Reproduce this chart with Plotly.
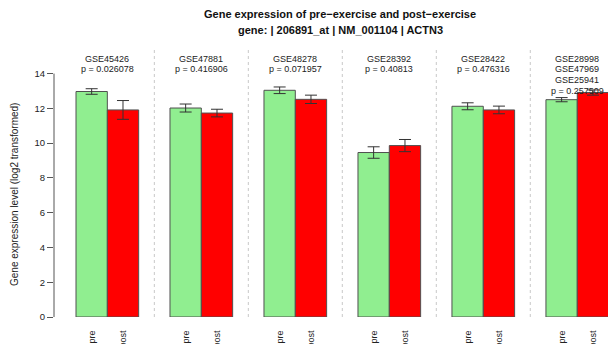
import plotly.graph_objects as go

# ---- data ----
datasets = [["GSE45426"], ["GSE47881"], ["GSE48278"], ["GSE28392"], ["GSE28422"],
            ["GSE28998", "GSE47969", "GSE25941"]]
p_values = ["0.026078", "0.416906", "0.071957", "0.40813", "0.476316", "0.257509"]
pre_mean = [12.97, 12.02, 13.04, 9.46, 12.12, 12.50]
pre_sem = [0.16, 0.23, 0.19, 0.33, 0.20, 0.12]
post_mean = [11.91, 11.73, 12.52, 9.86, 11.91, 12.91]
post_sem = [0.54, 0.22, 0.24, 0.35, 0.22, 0.15]
bar_labels = ["pre", "post"]
y_ticks = [0, 2, 4, 6, 8, 10, 12, 14]

# ---- layout helpers ----
W, H = 608, 344
L, R, T, B = 54, 0, 44, 27
plot_h = H - T - B
px_per_unit = 17.386
y_max = plot_h / px_per_unit
FONT = "Liberation Sans, Arial, sans-serif"


def py(px):
    """pixel row -> paper y"""
    return (H - B - px) / plot_h


def px_x(px):
    return (px - L) / (W - L - R)


n = len(datasets)
pre_x = [1.5 + 3 * i for i in range(n)]
post_x = [2.5 + 3 * i for i in range(n)]
centers = [2 + 3 * i for i in range(n)]

fig = go.Figure()
fig.add_bar(x=pre_x, y=pre_mean, width=1, marker=dict(color="#90EE90", line=dict(color="#505050", width=1)),
            error_y=dict(type="data", array=pre_sem, color="#333333", thickness=1, width=6), name="pre")
fig.add_bar(x=post_x, y=post_mean, width=1, marker=dict(color="#FF0000", line=dict(color="#505050", width=1)),
            error_y=dict(type="data", array=post_sem, color="#333333", thickness=1, width=6), name="post")

shapes = []
for i in range(n - 1):
    xs = 3.5 + 3 * i
    shapes.append(dict(type="line", xref="x", yref="y", x0=xs, x1=xs, y0=0, y1=15.47,
                       line=dict(color="#c8c8c8", width=1, dash="dot"), layer="below"))
shapes.append(dict(type="line", xref="paper", yref="y", x0=0, x1=0, y0=0, y1=14,
                   line=dict(color="#555555", width=1)))

annotations = []
for i in range(n):
    lines = datasets[i] + ["p = " + p_values[i]]
    for j, t in enumerate(lines):
        annotations.append(dict(x=centers[i], xref="x", y=py(58.5 + 10.8 * j), yref="paper", text=t,
                                showarrow=False, xanchor="center", yanchor="middle",
                                font=dict(family=FONT, size=9, color="#222222")))

annotations.append(dict(x=px_x(340), xref="paper", y=py(14), yref="paper",
                        text="<b>Gene expression of pre\u2212exercise and post\u2212exercise</b>",
                        showarrow=False, xanchor="center", yanchor="middle",
                        font=dict(family=FONT, size=11, color="#111111")))
annotations.append(dict(x=px_x(340), xref="paper", y=py(30), yref="paper",
                        text="<b>gene: | 206891_at | NM_001104 | ACTN3</b>",
                        showarrow=False, xanchor="center", yanchor="middle",
                        font=dict(family=FONT, size=11, color="#111111")))
annotations.append(dict(x=px_x(14), xref="paper", y=py(195), yref="paper",
                        text="Gene expression level (log2 transformed)", textangle=-90,
                        showarrow=False, xanchor="center", yanchor="middle",
                        font=dict(family=FONT, size=10, color="#222222")))

x_lo = 1 + (L - 76) / 31.33
x_hi = 1 + (W - R - 76) / 31.33

fig.update_layout(
    width=W, height=H, margin=dict(l=L, r=R, t=T, b=B, pad=0, autoexpand=False),
    plot_bgcolor="white", paper_bgcolor="white", showlegend=False,
    barmode="overlay", shapes=shapes, annotations=annotations,
    font=dict(family=FONT, size=9, color="#222222"),
    xaxis=dict(range=[x_lo, x_hi], showline=False, showgrid=False, zeroline=False, automargin=False,
               tickvals=pre_x + post_x, ticktext=[bar_labels[0]] * n + [bar_labels[1]] * n,
               tickangle=-90, ticks="outside", ticklen=9, tickcolor="rgba(0,0,0,0)",
               tickfont=dict(family=FONT, size=9, color="#222222")),
    yaxis=dict(range=[0, y_max], showline=False, showgrid=False, zeroline=False, automargin=False,
               tickvals=y_ticks, ticks="outside", ticklen=6, tickcolor="#555555", tickwidth=1,
               tickfont=dict(family=FONT, size=9.5, color="#222222")),
)

fig.write_html("out.html", config={"displayModeBar": False},
               post_script="document.body.style.margin='0';document.body.style.overflow='hidden';")
